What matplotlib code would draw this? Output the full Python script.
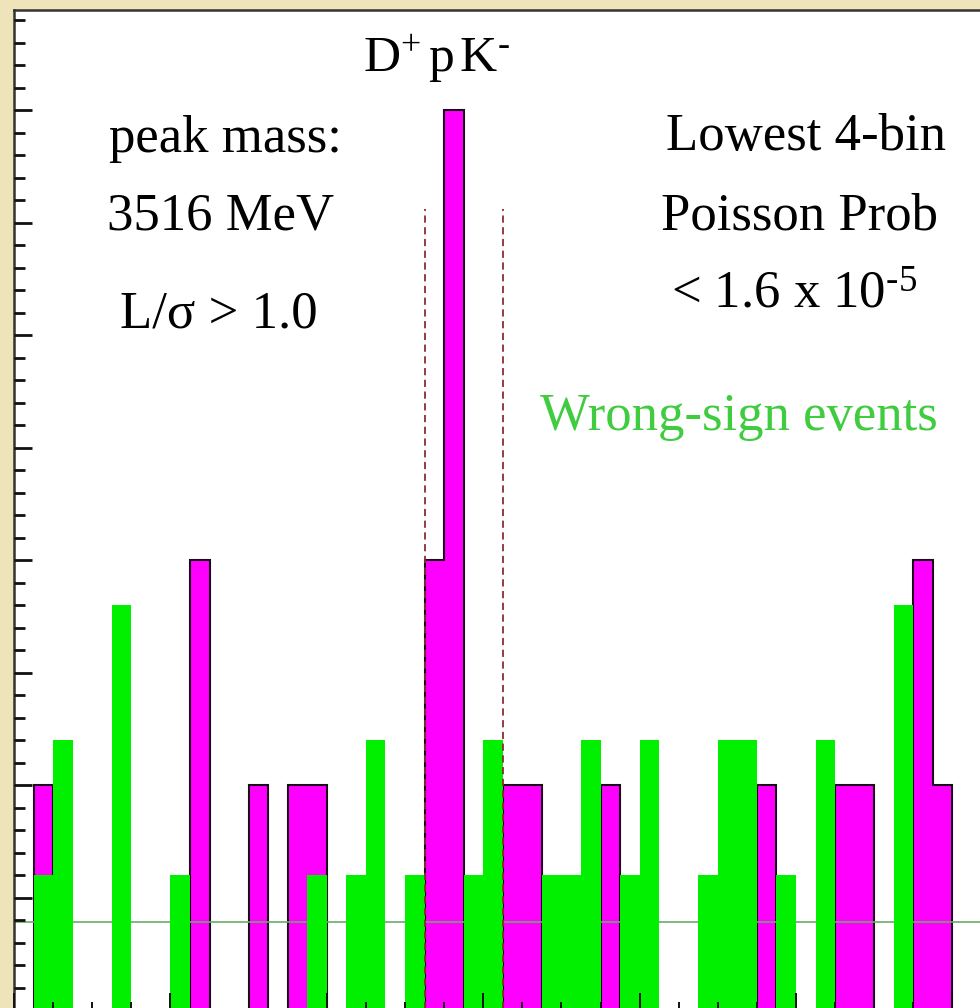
import numpy as np
import matplotlib
matplotlib.use('Agg')
from matplotlib import pyplot as plt
from matplotlib.ticker import MultipleLocator

plt.rcParams['font.family'] = ['Liberation Serif', 'DejaVu Serif']
plt.rcParams['mathtext.fontset'] = 'custom'
plt.rcParams['mathtext.rm'] = 'Liberation Serif'
plt.rcParams['mathtext.it'] = 'Liberation Serif:italic'

# bin index edges (mass bins), counts
edges = np.arange(0, 53)
right_sign = [0, 5, 0, 0, 0, 0, 0, 0, 0, 10,
              0, 0, 5, 0, 5, 5, 0, 0, 0, 0,
              0, 10, 20, 0, 0, 5, 5, 0, 0, 0,
              5, 0, 0, 0, 0, 0, 0, 0, 5, 0,
              0, 0, 5, 5, 0, 0, 10, 5, 0, 0,
              0, 0]
wrong_sign = [0, 3, 6, 0, 0, 9, 0, 0, 3, 0,
              0, 0, 0, 0, 0, 3, 0, 3, 6, 0,
              3, 0, 0, 3, 6, 0, 0, 3, 3, 6,
              0, 3, 6, 0, 0, 3, 6, 6, 0, 3,
              0, 6, 0, 0, 0, 9, 0, 0, 0, 0,
              0, 0]
background_level = 1.95
window_edges = [21, 25]
window_top = 17.8

W, H = 980, 1008
fig = plt.figure(figsize=(W / 100, H / 100), dpi=100, facecolor='#efe3ba')
# axes runs past the right and bottom edges, as in the cropped original
left_px, top_px, bottom_px, binw_px = 14, 10, 1010, 19.55
ax = fig.add_axes([left_px / W, (H - bottom_px) / H,
                   binw_px * 52 / W, (bottom_px - top_px) / H])
ax.set_facecolor('white')
ax.set_xlim(0, 52)
ax.set_ylim(0, (bottom_px - top_px) / 45.0)

ax.stairs(right_sign, edges, fill=True, color='#ff00ff', lw=0, zorder=2)
ax.stairs(right_sign, edges, fill=False, color='#1c0a1c', lw=1.5, zorder=3)
ax.axhline(background_level, color='#6aaa6a', lw=1.2, zorder=4)
ax.stairs(wrong_sign, edges, fill=True, color='#00f000', lw=0, zorder=5)
ax.vlines(window_edges, 0, window_top, colors='#8a2e2e', lw=1.3,
          linestyles=(0, (4, 2.5)), zorder=6)

for s in ['right', 'bottom']:
    ax.spines[s].set_visible(False)
for s in ['left', 'top']:
    ax.spines[s].set_color('#333333')
    ax.spines[s].set_linewidth(1.8)
    ax.spines[s].set_zorder(10)
ax.xaxis.set_zorder(10)
ax.yaxis.set_zorder(10)

ax.yaxis.set_major_locator(MultipleLocator(2.5))
ax.yaxis.set_minor_locator(MultipleLocator(0.5))
ax.xaxis.set_major_locator(MultipleLocator(8))
ax.xaxis.set_minor_locator(MultipleLocator(2))
ax.tick_params(axis='y', which='major', direction='in', length=13, width=2, color='#111111')
ax.tick_params(axis='y', which='minor', direction='in', length=8, width=2, color='#111111')
ax.tick_params(axis='x', which='major', direction='in', length=12, width=1.4, color='#111111')
ax.tick_params(axis='x', which='minor', direction='in', length=6, width=1.4, color='#111111')
ax.tick_params(labelleft=False, labelbottom=False)

def put(x, y, s, color='black', size=38):
    fig.text(x / W, 1 - y / H, s, ha='center', va='baseline', fontsize=size, color=color)

put(437, 72, r'$\mathrm{D^{+}\,p\,K^{\text{-}}}$', size=37)
put(225, 152, 'peak mass:')
put(221, 230, '3516 MeV')
put(219, 328, 'L/σ > 1.0')
put(806, 150, 'Lowest 4-bin')
put(799, 230, 'Poisson Prob')
put(794, 308, r'< 1.6 x 10$^{\text{-5}}$')
put(739, 430, 'Wrong-sign events', color='#3fcc3f')

fig.savefig('out.png', dpi=100, facecolor=fig.get_facecolor())
